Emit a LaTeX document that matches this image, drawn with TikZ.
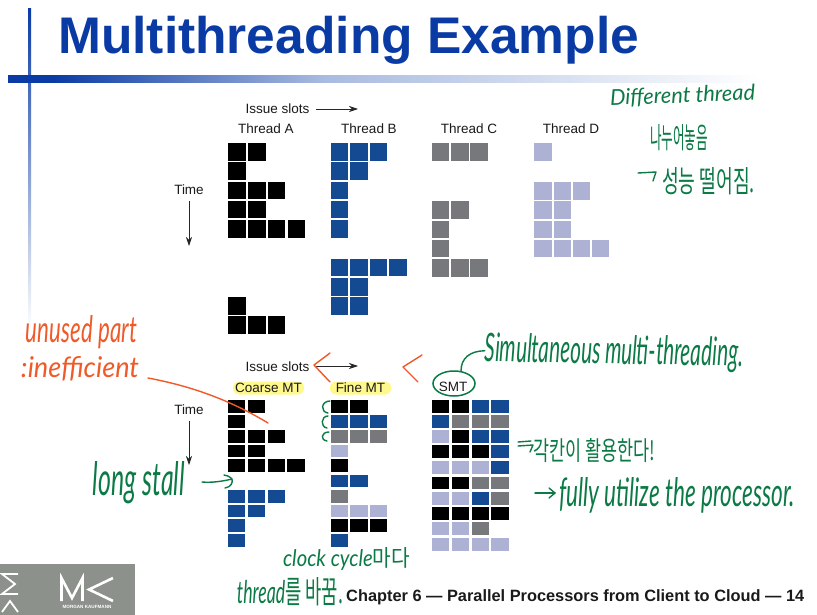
\documentclass[tikz,border=0pt]{standalone}
\usepackage{fontspec}
\setmainfont{Liberation Sans}
\newfontfamily\handfont{Lato}
\newfontfamily\krfont{Noto Sans CJK KR}
\usetikzlibrary{arrows.meta,shapes.geometric}
\definecolor{titleblue}{HTML}{0A3BA5}
\definecolor{cK}{HTML}{000000}
\definecolor{cB}{HTML}{134A92}
\definecolor{cG}{HTML}{77787B}
\definecolor{cL}{HTML}{ADB1D4}
\definecolor{pen}{HTML}{0B7A45}
\definecolor{ink}{HTML}{F05A28}
\definecolor{hilite}{HTML}{FFF88C}
\definecolor{logogray}{HTML}{8C918C}
\definecolor{txt}{HTML}{1A1A1A}
\pgfdeclarehorizontalshading{barfade}{100bp}{color(0bp)=(titleblue); color(28bp)=(titleblue); color(46bp)=(titleblue!35!white); color(75bp)=(white); color(100bp)=(white)}
\tikzset{
  lbl/.style={inner sep=0pt,text=txt,font=\fontsize{13.5}{15}\selectfont},
  axisarrow/.style={draw=black!85,line width=0.7pt,-{Stealth[length=9pt,width=6pt]}},
  greenstroke/.style={draw=pen,line width=1.4pt,line cap=round,line join=round},
  orangestroke/.style={draw=ink,line width=1.4pt,line cap=round,line join=round},
  greentext/.style={inner sep=0pt,text=pen},
  orangetext/.style={inner sep=0pt,text=ink},
  pill/.style={fill=hilite,rounded corners=6pt,inner sep=0pt,minimum height=13pt},
  logostroke/.style={draw=white,line width=2.6pt,line join=miter}
}
% x0 pitch y h : colours of a row
\newcommand{\cellrow}[5]{%
  \foreach \c [count=\i from 0] in {#5}{%
    \fill[c\c] ({#1+\i*#2},#3) rectangle ++(17.3,#4);}}
\newcommand{\fit}[2]{\resizebox{#1pt}{!}{#2}}
\newcommand{\fitb}[3]{\resizebox{#1pt}{#2pt}{#3}}
\begin{document}
\begin{tikzpicture}[x=1pt,y=-1pt]
\useasboundingbox (0,0) rectangle (817,615);
\fill[white] (0,0) rectangle (817,615);

% slide furniture
\shade[top color=titleblue,bottom color=white] (28,9) rectangle (31,330);
\shade[shading=barfade] (8,76) rectangle (760,83);
\node[anchor=base west,inner sep=0pt,text=titleblue,font=\fontsize{51.5}{55}\selectfont\bfseries] (title) at (58,54) {Multithreading Example};

% upper labels
\node[lbl] (issueA) at (277.5,109) {Issue slots};
\coordinate (issueAend) at (358,109);
\draw[axisarrow] (316,109) -- (issueAend);
\node[lbl] (thA) at (266,129) {Thread A};
\node[lbl] (thB) at (369,129) {Thread B};
\node[lbl] (thC) at (469,129) {Thread C};
\node[lbl] (thD) at (571,129) {Thread D};
\node[lbl] (timeA) at (189,190) {Time};
\coordinate (timeAend) at (189,246);
\draw[axisarrow] (timeA.south)++(0,6) -- (timeAend);

% Thread A
\cellrow{228.3}{19.9}{143.3}{17.3}{K,K}
\cellrow{228.3}{19.9}{162.3}{17.3}{K}
\cellrow{228.3}{19.9}{181.7}{17.3}{K,K,K}
\cellrow{228.3}{19.9}{201}{17.3}{K,K}
\cellrow{228.3}{19.9}{220.3}{17.3}{K,K,K,K}
\cellrow{228.3}{19.9}{297.3}{17.3}{K}
\cellrow{228.3}{19.9}{316.3}{17.3}{K,K,K}
% Thread B
\cellrow{330.7}{19.5}{143.3}{17.3}{B,B,B}
\cellrow{330.7}{19.5}{162.3}{17.3}{B,B}
\cellrow{330.7}{19.5}{181.7}{17.3}{B}
\cellrow{330.7}{19.5}{201}{17.3}{B}
\cellrow{330.7}{19.5}{220.3}{17.3}{B}
\cellrow{330.7}{19.5}{259}{17.3}{B,B,B,B}
\cellrow{330.7}{19.5}{278.3}{17.3}{B,B}
\cellrow{330.7}{19.5}{297.3}{17.3}{B,B}
% Thread C
\cellrow{432}{19.2}{143.3}{17.3}{G,G,G}
\cellrow{432}{19.2}{201.3}{17.3}{G,G}
\cellrow{432}{19.2}{220.7}{17.3}{G}
\cellrow{432}{19.2}{240}{17.3}{G}
\cellrow{432}{19.2}{259.3}{17.3}{G,G,G}
% Thread D
\cellrow{534.3}{19.2}{143.3}{17.3}{L}
\cellrow{534.3}{19.2}{182.3}{17.3}{L,L,L}
\cellrow{534.3}{19.2}{201.3}{17.3}{L,L}
\cellrow{534.3}{19.2}{220.7}{17.3}{L,L}
\cellrow{534.3}{19.2}{240}{17.3}{L,L,L,L}

% lower labels
\node[lbl] (issueB) at (277.5,367) {Issue slots};
\coordinate (issueBend) at (358,366);
\draw[axisarrow] (316,366) -- (issueBend);
\node[pill,minimum width=71pt] (coarseBg) at (268.5,388) {};
\node[pill,minimum width=61pt] (fineBg) at (360.5,388) {};
\node[lbl] (coarse) at (268.5,388) {Coarse MT};
\node[lbl] (fine) at (360.5,388) {Fine MT};
\node[lbl] (smt) at (453,387) {SMT};
\node[lbl] (timeB) at (189,410) {Time};
\coordinate (timeBend) at (189,465);
\draw[axisarrow] (timeB.south)++(0,6) -- (timeBend);

% Coarse MT
\cellrow{227.7}{19.9}{400}{12.7}{K,K}
\cellrow{227.7}{19.9}{415}{12.7}{K}
\cellrow{227.7}{19.9}{430}{12.7}{K,K,K}
\cellrow{227.7}{19.9}{444.7}{12.7}{K,K}
\cellrow{227.7}{19.9}{459.3}{12.7}{K,K,K,K}
\cellrow{227.7}{19.9}{490}{12.7}{B,B,B}
\cellrow{227.7}{19.9}{504.7}{12.7}{B,B}
\cellrow{227.7}{19.9}{519.3}{12.7}{B}
\cellrow{227.7}{19.9}{534}{12.7}{B}
% Fine MT
\cellrow{330.7}{19.6}{400}{12.7}{K,K}
\cellrow{330.7}{19.6}{415}{12.7}{B,B,B}
\cellrow{330.7}{19.6}{430}{12.7}{G,G,G}
\cellrow{330.7}{19.6}{444.7}{12.7}{L}
\cellrow{330.7}{19.6}{459.3}{12.7}{K}
\cellrow{330.7}{19.6}{474.7}{12.7}{B,B}
\cellrow{330.7}{19.6}{490}{12.7}{G}
\cellrow{330.7}{19.6}{504.7}{12.7}{L,L,L}
\cellrow{330.7}{19.6}{519.3}{12.7}{K,K,K}
\cellrow{330.7}{19.6}{534}{12.7}{B}
% SMT
\cellrow{431.7}{19.9}{400}{12.7}{K,K,B,B}
\cellrow{431.7}{19.9}{415}{12.7}{B,G,G,G}
\cellrow{431.7}{19.9}{430}{12.7}{L,K,B,B}
\cellrow{431.7}{19.9}{445}{12.7}{K,K,K,B}
\cellrow{431.7}{19.9}{461}{12.7}{L,L,L,B}
\cellrow{431.7}{19.9}{476.7}{12.7}{K,K,G,G}
\cellrow{431.7}{19.9}{492}{12.7}{L,L,B,G}
\cellrow{431.7}{19.9}{507}{12.7}{K,K,K,K}
\cellrow{431.7}{19.9}{522.3}{12.7}{L,L,G}
\cellrow{431.7}{19.9}{538}{12.7}{L,L,L,L}

% logo
\fill[logogray] (0,564) rectangle (135,615);
\draw[logostroke] (61.5,601) -- (61.5,578) -- (72,598) -- (82.5,578) -- (82.5,601);
\draw[logostroke] (113,578) -- (89,589.5) -- (113,601);
\node[inner sep=0pt,text=white,font=\fontsize{4.6}{5}\selectfont\bfseries] (mkname) at (87,606.5) {MORGAN KAUFMANN};
\draw[draw=white,line width=1.8pt] (18,574) -- (2,574) -- (15,584) -- (2,594) -- (18,594);
\draw[draw=white,line width=1.8pt] (2,612) -- (10,601) -- (18,612);

% footer
\node[anchor=base west,inner sep=0pt,text=txt] (footer) at (346,601)
  {\fit{458}{\fontsize{13.3}{15}\selectfont\bfseries Chapter 6 — Parallel Processors from Client to Cloud — 14}};

% handwritten notes: green
\node[greentext,rotate=2] (n1) at (682.5,96) {\fit{145}{\handfont\itshape Different thread}};
\node[greentext] (n2) at (679,138) {\fitb{58}{24}{\krfont 나누어놓음}};
\coordinate (n3a) at (638,173);
\coordinate (n3b) at (656,172);
\draw[greenstroke] (n3a) -- (n3b) -- (653,181);
\node[greentext] (n3) at (708.5,181) {\fitb{93}{25}{\krfont 성능 떨어짐.}};

\node[greentext,rotate=-1] (n4) at (614,353) {\fitb{258}{29}{\handfont\itshape Simultaneous multi-threading.}};
\node[draw=pen,line width=1.5pt,shape=ellipse,inner sep=0pt,minimum width=42pt,minimum height=25pt] (smtring) at (454,383.5) {};
\coordinate (n4s) at (461,371);
\draw[greenstroke] (n4s) .. controls (461,358) and (470,351) .. (n4.west);

\coordinate (n5a) at (518,446);
\coordinate (n5b) at (533,445);
\draw[greenstroke] (n5a) -- (n5b) -- (530,452);
\draw[greenstroke] (518,442) -- (531,441);
\node[greentext] (n5) at (594,451) {\fitb{122}{22}{\krfont 각칸이 활용한다!}};

\coordinate (n6a) at (535,493);
\coordinate (n6b) at (555,493);
\draw[greenstroke] (n6a) -- (n6b);
\draw[greenstroke] (549,488) -- (n6b) -- (549,498);
\node[greentext] (n6) at (677,495) {\fitb{236}{29}{\handfont\itshape fully utilize the processor.}};

\node[greentext] (n7) at (139,483) {\fitb{92}{34}{\handfont\itshape long stall}};
\coordinate (n7a) at (202,482);
\coordinate (n7b) at (232,479);
\draw[greenstroke] (n7a) .. controls (212,483) and (224,481) .. (n7b) .. controls (233,483) and (231,487) .. (225,488);
\draw[greenstroke] (n7b) .. controls (229,476) and (226,475) .. (224,475);

\node[greentext] (n8) at (346.5,559) {\fitb{127}{19}{\handfont\itshape clock cycle\krfont 마다}};
\node[greentext] (n9) at (290,592) {\fitb{106}{26}{\handfont\itshape thread\krfont 를 바꿈.}};

% three small loops beside Fine MT
\coordinate (c1a) at (330,401); \coordinate (c1b) at (328,413);
\coordinate (c2a) at (328,416); \coordinate (c2b) at (327,428);
\coordinate (c3a) at (329,432); \coordinate (c3b) at (327,441);
\draw[greenstroke] (c1a) .. controls (321,401) and (320,412) .. (c1b);
\draw[greenstroke] (c2a) .. controls (321,416) and (320,427) .. (c2b);
\draw[greenstroke] (c3a) .. controls (321,432) and (320,440) .. (c3b);

% handwritten notes: orange
\node[orangetext] (u1) at (81.5,332) {\fitb{111}{27}{\handfont\itshape unused part}};
\node[orangetext] (u2) at (80,369) {\fitb{118}{21}{\handfont\itshape :inefficient}};
\coordinate (u2end) at (268,423);
\draw[orangestroke] (148,378) .. controls (185,385) and (225,397) .. (u2end);
\coordinate (b1a) at (330,353); \coordinate (b1b) at (314,365); \coordinate (b1c) at (330,382);
\draw[orangestroke] (b1a) -- (b1b) -- (b1c);
\coordinate (b2a) at (422,355); \coordinate (b2b) at (403,367); \coordinate (b2c) at (418,382);
\draw[orangestroke] (b2a) -- (b2b) -- (b2c);
\end{tikzpicture}
\end{document}
